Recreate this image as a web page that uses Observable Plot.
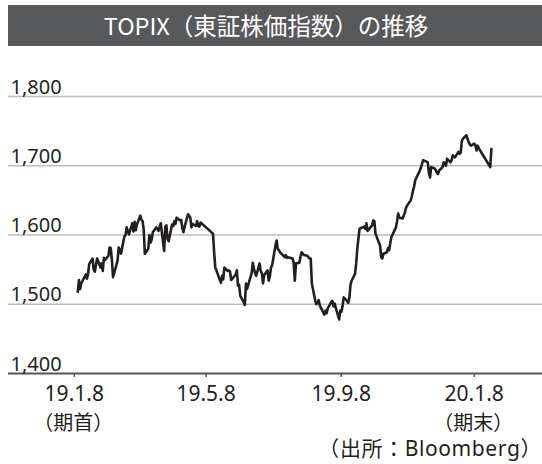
<!DOCTYPE html>
<html><head><meta charset="utf-8">
<script src="https://cdn.jsdelivr.net/npm/d3@7"></script>
<script src="https://cdn.jsdelivr.net/npm/@observablehq/plot@0.6"></script>
<style>
body{margin:0;background:#fff;font-family:"Noto Sans CJK JP","Noto Sans",sans-serif;}
#wrap{position:relative;width:542px;height:464px;overflow:hidden;background:#fff;}
#title{position:absolute;left:8px;top:5px;width:534px;height:41px;background:#58595b;color:#fff;font-size:23.5px;line-height:41px;text-align:center;text-indent:-18px;font-weight:400;}
#chart{position:absolute;left:0;top:46px;}
#src{position:absolute;right:0px;top:435px;font-family:"Noto Sans","Noto Sans CJK JP",sans-serif;font-size:21px;color:#231f20;line-height:27px;letter-spacing:0.6px;white-space:nowrap;}
</style></head><body>
<div id="wrap"><div id="title">TOPIX（東証株価指数）の推移</div><div id="chart"></div><div id="src">（出所：Bloomberg）</div></div>
<script>
const dates = [
"2019-01-08","2019-01-09","2019-01-10","2019-01-11","2019-01-15","2019-01-16","2019-01-17","2019-01-18","2019-01-21","2019-01-22","2019-01-23","2019-01-24","2019-01-25","2019-01-28","2019-01-29","2019-01-30","2019-01-31",
"2019-02-01","2019-02-04","2019-02-05","2019-02-06","2019-02-07","2019-02-08","2019-02-12","2019-02-13","2019-02-14","2019-02-15","2019-02-18","2019-02-19","2019-02-20","2019-02-21","2019-02-22","2019-02-25","2019-02-26","2019-02-27","2019-02-28",
"2019-03-01","2019-03-04","2019-03-05","2019-03-06","2019-03-07","2019-03-08","2019-03-11","2019-03-12","2019-03-13","2019-03-14","2019-03-15","2019-03-18","2019-03-19","2019-03-20","2019-03-22","2019-03-25","2019-03-26","2019-03-27","2019-03-28","2019-03-29",
"2019-04-01","2019-04-02","2019-04-03","2019-04-04","2019-04-05","2019-04-08","2019-04-09","2019-04-10","2019-04-11","2019-04-12","2019-04-15","2019-04-16","2019-04-17","2019-04-18","2019-04-19","2019-04-22","2019-04-23","2019-04-24","2019-04-25","2019-04-26",
"2019-05-07","2019-05-08","2019-05-09","2019-05-10","2019-05-13","2019-05-14","2019-05-15","2019-05-16","2019-05-17","2019-05-20","2019-05-21","2019-05-22","2019-05-23","2019-05-24","2019-05-27","2019-05-28","2019-05-29","2019-05-30","2019-05-31",
"2019-06-03","2019-06-04","2019-06-05","2019-06-06","2019-06-07","2019-06-10","2019-06-11","2019-06-12","2019-06-13","2019-06-14","2019-06-17","2019-06-18","2019-06-19","2019-06-20","2019-06-21","2019-06-24","2019-06-25","2019-06-26","2019-06-27","2019-06-28",
"2019-07-01","2019-07-02","2019-07-03","2019-07-04","2019-07-05","2019-07-08","2019-07-09","2019-07-10","2019-07-11","2019-07-12","2019-07-16","2019-07-17","2019-07-18","2019-07-19","2019-07-22","2019-07-23","2019-07-24","2019-07-25","2019-07-26","2019-07-29","2019-07-30","2019-07-31",
"2019-08-01","2019-08-02","2019-08-05","2019-08-06","2019-08-07","2019-08-08","2019-08-09","2019-08-13","2019-08-14","2019-08-15","2019-08-16","2019-08-19","2019-08-20","2019-08-21","2019-08-22","2019-08-23","2019-08-26","2019-08-27","2019-08-28","2019-08-29","2019-08-30",
"2019-09-02","2019-09-03","2019-09-04","2019-09-05","2019-09-06","2019-09-09","2019-09-10","2019-09-11","2019-09-12","2019-09-13","2019-09-17","2019-09-18","2019-09-19","2019-09-20","2019-09-24","2019-09-25","2019-09-26","2019-09-27","2019-09-30",
"2019-10-01","2019-10-02","2019-10-03","2019-10-04","2019-10-07","2019-10-08","2019-10-09","2019-10-10","2019-10-11","2019-10-15","2019-10-16","2019-10-17","2019-10-18","2019-10-21","2019-10-23","2019-10-24","2019-10-25","2019-10-28","2019-10-29","2019-10-30","2019-10-31",
"2019-11-01","2019-11-05","2019-11-06","2019-11-07","2019-11-08","2019-11-11","2019-11-12","2019-11-13","2019-11-14","2019-11-15","2019-11-18","2019-11-19","2019-11-20","2019-11-21","2019-11-22","2019-11-25","2019-11-26","2019-11-27","2019-11-28","2019-11-29",
"2019-12-02","2019-12-03","2019-12-04","2019-12-05","2019-12-06","2019-12-09","2019-12-10","2019-12-11","2019-12-12","2019-12-13","2019-12-16","2019-12-17","2019-12-18","2019-12-19","2019-12-20","2019-12-23","2019-12-24","2019-12-25","2019-12-26","2019-12-27","2019-12-30",
"2020-01-06","2020-01-07"
];
const values = [
1518,1535,1522,1530,1543,1537,1543,1558,1566,1550,1547,1557,1566,1553,1559,1548,1567,
1564,1570,1582,1581,1564,1539,1563,1582,1578,1573,1598,1600,1611,1606,1601,1617,1605,1619,1607,
1615,1628,1622,1620,1608,1573,1580,1600,1589,1593,1604,1611,1609,1606,1617,1577,1612,1614,1594,1591,
1615,1613,1620,1616,1625,1621,1622,1610,1604,1612,1630,1628,1625,1611,1616,1613,1620,1613,1612,1618,
1602,1575,1553,1549,1535,1531,1541,1536,1553,1548,1549,1547,1535,1537,1543,1549,1527,1528,1512,
1503,1499,1530,1522,1528,1545,1560,1552,1545,1541,1559,1548,1545,1530,1542,1549,1534,1540,1553,1556,
1585,1592,1580,1578,1575,1570,1568,1571,1567,1568,1566,1560,1534,1559,1560,1569,1575,1573,1571,1570,1568,1566,
1566,1530,1505,1500,1503,1506,1498,1485,1491,1487,1494,1503,1505,1497,1501,1495,1478,1491,1489,1497,1510,
1505,1502,1509,1528,1534,1544,1559,1580,1595,1609,1612,1609,1617,1606,1614,1621,1620,1602,1589,
1585,1568,1566,1573,1575,1581,1578,1588,1597,1611,1620,1631,1625,1624,1633,1640,1643,1650,1656,1664,1670,
1679,1693,1697,1703,1708,1706,1705,1690,1683,1698,1696,1694,1690,1688,1693,1698,1705,1703,1700,1710,
1705,1708,1715,1713,1712,1720,1717,1719,1736,1739,1744,1739,1734,1731,1729,1732,1729,1722,1729,1725,1717,
1698,1724
];
const yTicks = [1400, 1500, 1600, 1700, 1800];
const xTickDates = ["2019-01-04", "2019-04-30", "2019-08-27", "2019-12-22"];
const xTickLabels = ["19.1.8", "19.5.8", "19.9.8", "20.1.8"];
const xTickNotes = ["（期首）", "", "", "（期末）"];

const data = dates.map((d, i) => ({date: new Date(d), value: values[i]}));
const tickDates = xTickDates.map(d => new Date(d));
const labelMap = new Map(tickDates.map((d, i) => [+d, xTickLabels[i]]));
const noteMap = new Map(tickDates.map((d, i) => [+d, xTickNotes[i]]));
const fmt = d3.format(",");
const latin = '"Noto Sans","Noto Sans CJK JP",sans-serif';

const chart = Plot.plot({
  width: 542, height: 418,
  marginTop: 50, marginBottom: 91, marginLeft: 8, marginRight: 0,
  x: {type: "utc", domain: [new Date("2018-11-08"), new Date("2020-02-21")], label: null},
  y: {domain: [1400, 1800], label: null},
  style: {fontFamily: latin, fontSize: "19px", color: "#231f20", background: "#fff"},
  marks: [
    Plot.ruleY(yTicks.filter(v => v > 1400), {stroke: "#bdbdbd", strokeWidth: 1.6}),
    Plot.ruleY([1400], {stroke: "#555555", strokeWidth: 2}),
    Plot.axisY({ticks: yTicks, anchor: "left", label: null, tickSize: 0, tickPadding: 0, dx: 2, textAnchor: "start", lineAnchor: "bottom", dy: -3, tickFormat: fmt, fontSize: 20, letterSpacing: "0.8px"}),
    Plot.axisX({ticks: tickDates, anchor: "bottom", label: null, tickSize: 4, tickPadding: 9, stroke: "#555555", strokeWidth: 1.5, tickFormat: d => labelMap.get(+d), fontSize: 21, letterSpacing: "1.5px", dx: 1}),
    Plot.axisX({ticks: tickDates, anchor: "bottom", label: null, tickSize: 0, tickPadding: 42, tickFormat: d => noteMap.get(+d), fontSize: 20, fontFamily: '"Noto Sans CJK JP",sans-serif'}),
    Plot.line(data, {x: "date", y: "value", stroke: "#231f20", strokeWidth: 2.6})
  ]
});
document.getElementById("chart").appendChild(chart);
</script>
</body></html>
